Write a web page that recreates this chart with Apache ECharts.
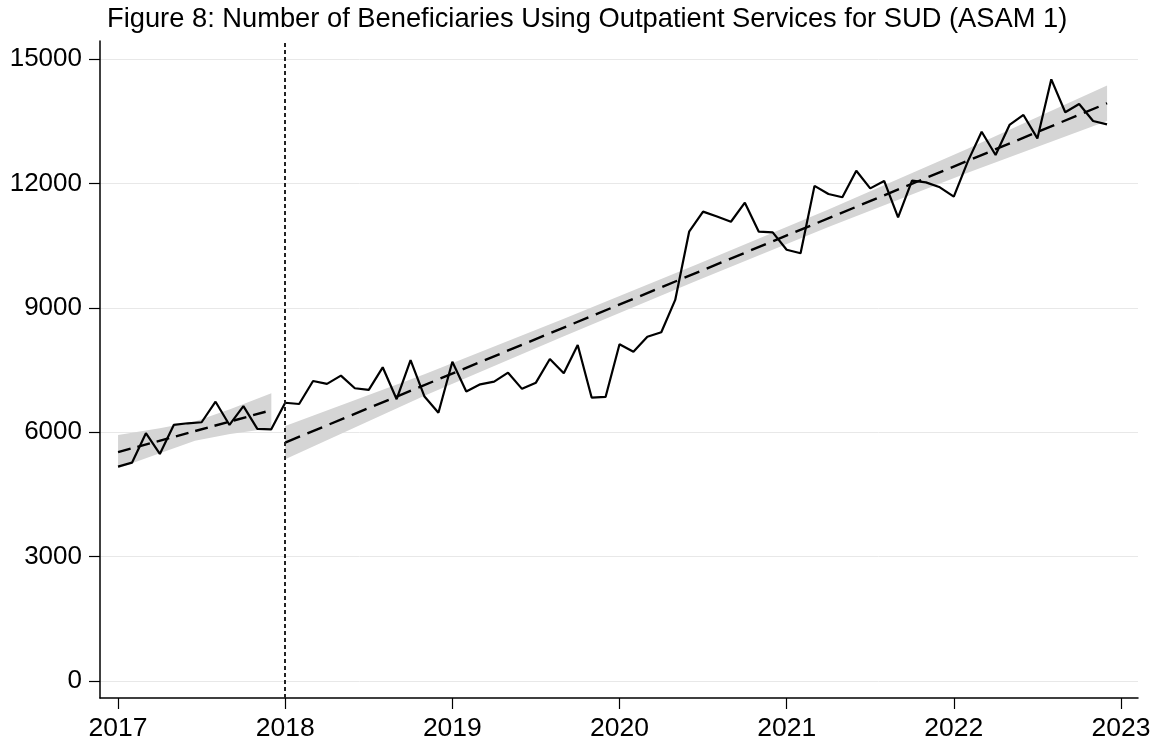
<!DOCTYPE html>
<html>
<head>
<meta charset="utf-8">
<title>Figure 8</title>
<script src="https://cdn.jsdelivr.net/npm/echarts@6/dist/echarts.min.js"></script>
<style>
html, body { margin: 0; padding: 0; background: #fff; }
#chart { width: 1158px; height: 742px; }
</style>
</head>
<body>
<div id="chart"></div>
<script>
// monthly observations, Jan 2017 - Dec 2022
const months = [
    '2017-01','2017-02','2017-03','2017-04','2017-05','2017-06','2017-07','2017-08','2017-09','2017-10','2017-11','2017-12',
    '2018-01','2018-02','2018-03','2018-04','2018-05','2018-06','2018-07','2018-08','2018-09','2018-10','2018-11','2018-12',
    '2019-01','2019-02','2019-03','2019-04','2019-05','2019-06','2019-07','2019-08','2019-09','2019-10','2019-11','2019-12',
    '2020-01','2020-02','2020-03','2020-04','2020-05','2020-06','2020-07','2020-08','2020-09','2020-10','2020-11','2020-12',
    '2021-01','2021-02','2021-03','2021-04','2021-05','2021-06','2021-07','2021-08','2021-09','2021-10','2021-11','2021-12',
    '2022-01','2022-02','2022-03','2022-04','2022-05','2022-06','2022-07','2022-08','2022-09','2022-10','2022-11','2022-12'
]
const beneficiaries = [
    5170, 5265, 5975, 5475, 6175, 6215, 6240, 6735, 6175, 6630, 6080, 6070,
    6710, 6680, 7235, 7165, 7365, 7060, 7020, 7565, 6795, 7740, 6860, 6470,
    7700, 6980, 7155, 7220, 7435, 7045, 7195, 7765, 7420, 8105, 6835, 6850,
    8120, 7940, 8300, 8410, 9190, 10835, 11320, 11200, 11075, 11535, 10835, 10820,
    10400, 10315, 11940, 11745, 11665, 12305, 11880, 12060, 11180, 12065, 12025, 11905,
    11680, 12525, 13245, 12685, 13410, 13650, 13085, 14510, 13715, 13915, 13505, 13425
]

// linear fits (pre / post), endpoints
const preFitAt = [2017.0, 2017.917]
const preFit = [5520, 6530]
const postFitAt = [2018.0, 2022.917]
const postFit = [5750, 13933]

// 95% CI bands
const preBandAt = [2017.0, 2017.25, 2017.46, 2017.67, 2017.917]
const preBandLow = [5130, 5495, 5795, 5955, 6094]
const preBandHigh = [5930, 6095, 6255, 6555, 6938]
const postBandAt = [2018.0, 2018.833, 2019.667, 2020.458, 2021.25, 2022.083, 2022.917]
const postBandLow = [5350, 6877, 8314, 9647, 10949, 12256, 13503]
const postBandHigh = [6150, 7397, 8734, 10037, 11369, 12836, 14363]

const yearTicks = [2017, 2018, 2019, 2020, 2021, 2022, 2023]
const valueTicks = [0, 3000, 6000, 9000, 12000, 15000]
const cutoff = 2018

const font = '"Liberation Sans", Arial, Helvetica, sans-serif'

function toYear(m) {
    const [y, mo] = m.split('-').map(Number)
    return y + (mo - 1) / 12
}
function pairs(xs, ys) {
    return xs.map((x, i) => [x, ys[i]])
}
// shaded CI band drawn as one polygon through the axes
function bandSeries(name, xs, low, high) {
    return {
        name: name,
        type: 'custom',
        silent: true,
        z: 1,
        data: xs.map((x, i) => [x, low[i], high[i]]),
        encode: { x: 0, y: [1, 2] },
        renderItem: function (params, api) {
            if (params.dataIndex !== 0) return
            const top = xs.map((x, i) => api.coord([x, high[i]]))
            const bottom = xs.map((x, i) => api.coord([x, low[i]])).reverse()
            return {
                type: 'polygon',
                shape: { points: top.concat(bottom) },
                style: { fill: '#d5d5d5' }
            }
        }
    }
}

const chart = echarts.init(document.getElementById('chart'))

const option = {
    backgroundColor: '#fff',
    animation: false,
    title: {
        text: 'Figure 8: Number of Beneficiaries Using Outpatient Services for SUD (ASAM 1)',
        left: 102,
        top: 1,
        textStyle: { fontFamily: font, fontSize: 27.3, fontWeight: 'normal', color: '#000' }
    },
    grid: { left: 100, right: 20, top: 41, bottom: 44 },
    xAxis: {
        type: 'value',
        min: 2016.892,
        max: 2023.102,
        axisLine: { onZero: false, lineStyle: { color: '#000', width: 1.5 } },
        axisTick: { show: true, length: 11, lineStyle: { color: '#000', width: 1.2 }, customValues: yearTicks },
        axisLabel: {
            margin: 17, fontFamily: font, fontSize: 26.5, color: '#000',
            customValues: yearTicks,
            formatter: v => String(v)
        },
        splitLine: { show: false }
    },
    yAxis: {
        type: 'value',
        min: -410,
        max: 15434,
        axisLine: { show: true, onZero: false, lineStyle: { color: '#000', width: 1.5 } },
        axisTick: { show: true, length: 11, lineStyle: { color: '#000', width: 1.2 }, customValues: valueTicks },
        axisLabel: {
            margin: 18, fontFamily: font, fontSize: 26, color: '#000',
            customValues: valueTicks,
            formatter: v => String(v)
        },
        splitLine: { show: true, lineStyle: { color: '#e8e8e8', width: 1 } }
    },
    series: [
        bandSeries('preBand', preBandAt, preBandLow, preBandHigh),
        bandSeries('postBand', postBandAt, postBandLow, postBandHigh),
        {
            name: 'preFit',
            type: 'line',
            data: pairs(preFitAt, preFit),
            symbol: 'none',
            lineStyle: { color: '#000', width: 2.4, type: [13, 7] },
            z: 3
        },
        {
            name: 'postFit',
            type: 'line',
            data: pairs(postFitAt, postFit),
            symbol: 'none',
            lineStyle: { color: '#000', width: 2.4, type: [16, 8] },
            z: 3
        },
        {
            name: 'beneficiaries',
            type: 'line',
            data: pairs(months.map(toYear), beneficiaries),
            symbol: 'none',
            lineStyle: { color: '#000', width: 2.2 },
            z: 4,
            markLine: {
                silent: true,
                symbol: 'none',
                label: { show: false },
                lineStyle: { color: '#222', width: 2, type: [4, 3] },
                data: [{ xAxis: cutoff }]
            }
        }
    ]
}

chart.setOption(option)
</script>
</body>
</html>
